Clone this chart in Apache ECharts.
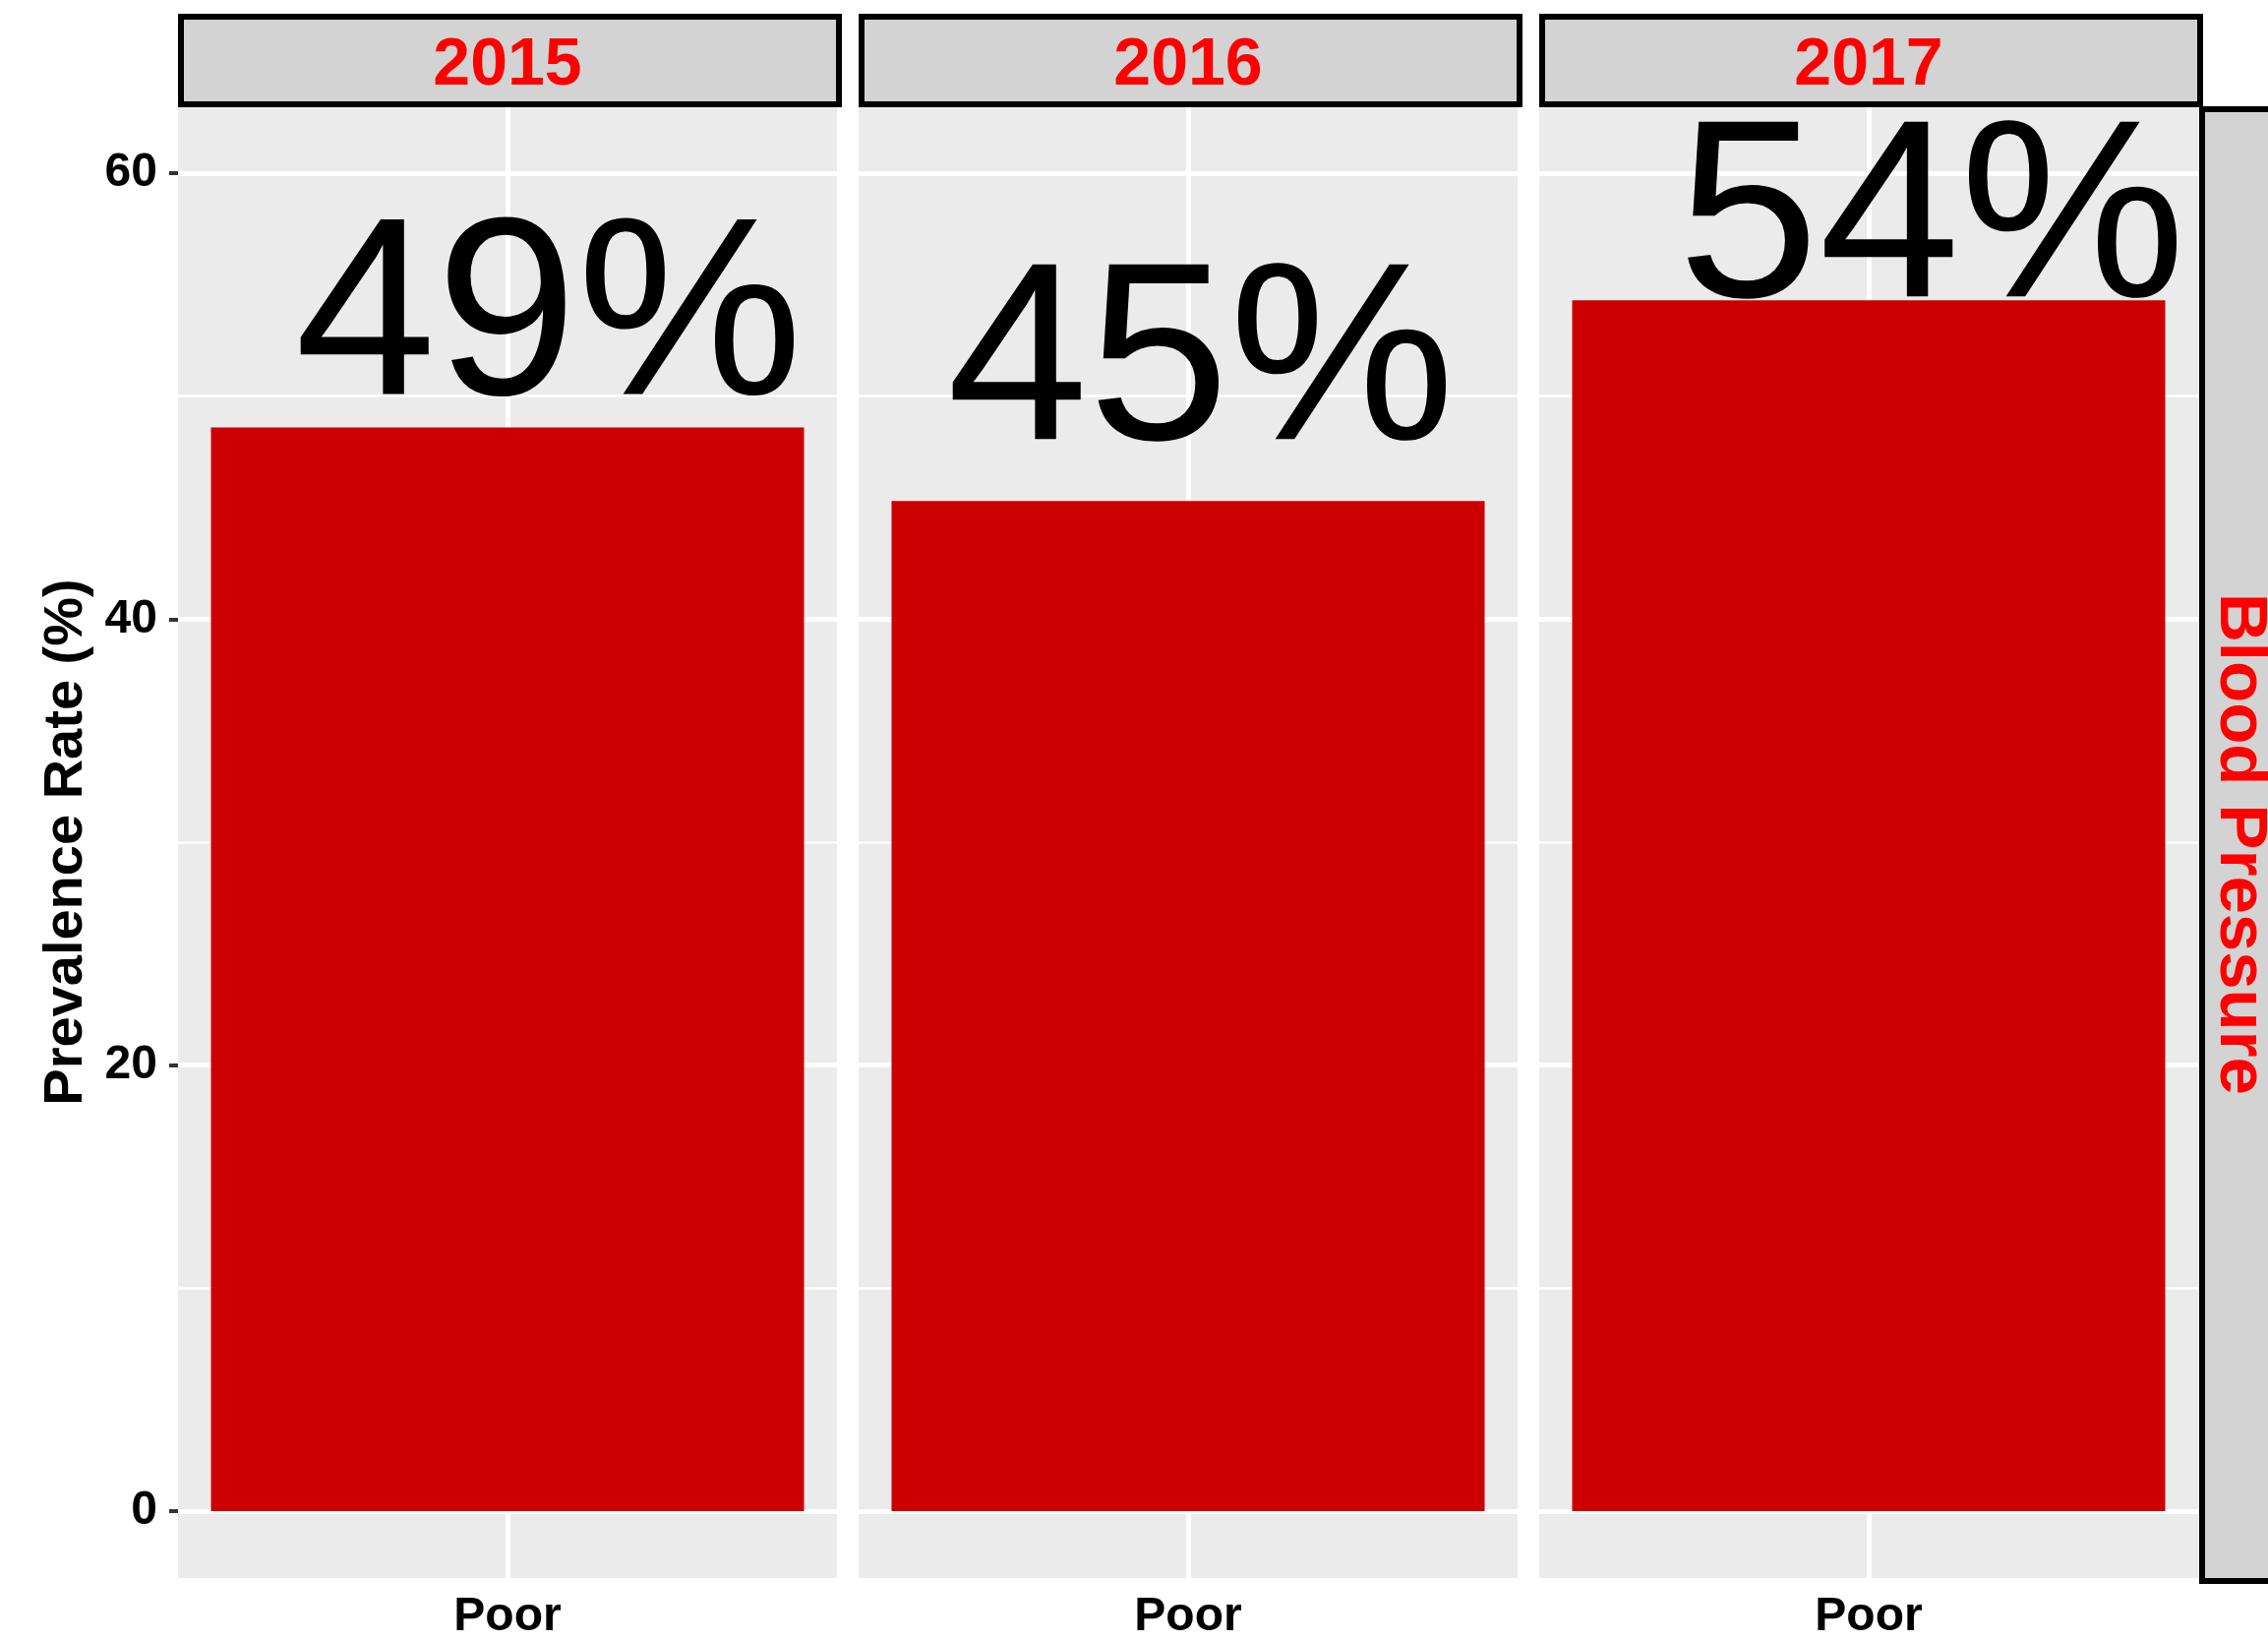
<!DOCTYPE html>
<html>
<head>
<meta charset="utf-8">
<title>Prevalence Rate – Blood Pressure</title>
<script src="https://cdn.jsdelivr.net/npm/echarts@6/dist/echarts.min.js"></script>
<style>
  html, body { margin: 0; padding: 0; background: #ffffff; }
  #chart { width: 2306px; height: 1668px; }
</style>
</head>
<body>
<div id="chart"></div>
<script>
// ---- data ----
const years = ['2015', '2016', '2017'];
const categories = ['Poor'];
const rates = [48.6, 45.3, 54.3];           // prevalence rate (%) per year
const yTicks = [0, 20, 40, 60];
const yMinorTicks = [10, 30, 50];
const rowStrip = 'Blood Pressure';
const yTitle = 'Prevalence Rate (%)';

// ---- layout & style ----
const FONT = '"Liberation Sans", Arial, Helvetica, sans-serif';
const panelLeft = 181, panelW = 670, panelGap = 22;
const panelTop = 108, panelBottom = 1608;
const panelBg = '#EBEBEB';
const barColor = '#CC0000';
const stripFill = '#D3D3D3';
const stripText = '#FF0000';
// shift of each big percentage label relative to its bar top, in px
const labelShift = [[42, -105], [13, -134], [64, -75]];

const grids = [], xAxes = [], yAxes = [], series = [], graphics = [];

years.forEach((yr, i) => {
  const left = panelLeft + i * (panelW + panelGap);
  grids.push({
    left: left, top: panelTop, width: panelW, height: panelBottom - panelTop,
    show: true, backgroundColor: panelBg, borderWidth: 0, containLabel: false
  });
  xAxes.push({
    type: 'category', gridIndex: i, data: categories,
    axisLine: { show: false },
    axisTick: { show: true, alignWithLabel: true, length: 11, lineStyle: { color: '#333', width: 4 } },
    axisLabel: { fontSize: 48, fontWeight: 'bold', color: '#000', fontFamily: FONT, margin: 16 },
    splitLine: { show: false }
  });
  yAxes.push({
    type: 'value', gridIndex: i, min: -3, max: 63,
    axisLine: { show: false },
    splitLine: { show: false },
    axisTick: { show: i === 0, customValues: yTicks, length: 9, lineStyle: { color: '#333', width: 4 } },
    axisLabel: { show: i === 0, customValues: yTicks, fontSize: 48, fontWeight: 'bold', color: '#000', fontFamily: FONT, margin: 21 },
    name: i === 0 ? yTitle : '',
    nameLocation: 'middle', nameGap: 85, nameRotate: 90,
    nameTextStyle: { fontSize: 56, fontWeight: 'bold', color: '#000', fontFamily: FONT }
  });

  // panel grid lines + big value label (drawn beneath the bar)
  const gridLines = []
    .concat(yTicks.map(v => ({ yAxis: v, lineStyle: { width: 5 } })))
    .concat(yMinorTicks.map(v => ({ yAxis: v, lineStyle: { width: 2.5 } })))
    .concat(categories.map(c => ({ xAxis: c, lineStyle: { width: 5 } })));

  series.push({
    type: 'scatter', xAxisIndex: i, yAxisIndex: i, z: 2,
    data: [[categories[0], rates[i]]],
    symbolSize: 0, silent: true, animation: false,
    itemStyle: { opacity: 1 },
    label: {
      show: true, position: 'inside', offset: labelShift[i],
      formatter: p => Math.round(p.value[1]) + '%',
      fontSize: 258, fontFamily: FONT, color: '#000000', opacity: 1
    },
    markLine: {
      z: 1, silent: true, symbol: ['none', 'none'], animation: false,
      label: { show: false },
      lineStyle: { color: '#ffffff', type: 'solid' },
      emphasis: { disabled: true },
      data: gridLines
    }
  });
  series.push({
    type: 'bar', xAxisIndex: i, yAxisIndex: i, z: 3,
    data: [rates[i]], barWidth: '90%', animation: false,
    itemStyle: { color: barColor }
  });

  // facet strip above the panel
  graphics.push({
    type: 'rect', z: 10, silent: true,
    shape: { x: left + 3, y: 17, width: panelW - 1, height: 89 },
    style: { fill: stripFill, stroke: '#000', lineWidth: 6 }
  });
  graphics.push({
    type: 'text', z: 11, silent: true,
    x: left + panelW / 2, y: 67,
    style: {
      text: yr, fill: stripText, font: 'bold 68px ' + FONT,
      align: 'center', verticalAlign: 'middle', textAlign: 'center', textVerticalAlign: 'middle'
    }
  });
});

// row strip on the right
graphics.push({
  type: 'rect', z: 10, silent: true,
  shape: { x: 2239, y: 111, width: 100, height: panelBottom - 111 - 1 },
  style: { fill: stripFill, stroke: '#000', lineWidth: 6 }
});
graphics.push({
  type: 'text', z: 11, silent: true,
  x: 2277, y: (panelTop + panelBottom) / 2, rotation: -Math.PI / 2,
  style: {
    text: rowStrip, fill: stripText, font: 'bold 69px ' + FONT,
    align: 'center', verticalAlign: 'middle', textAlign: 'center', textVerticalAlign: 'middle'
  }
});

const chart = echarts.init(document.getElementById('chart'), null, { renderer: 'canvas' });
chart.setOption({
  backgroundColor: '#ffffff',
  animation: false,
  grid: grids,
  xAxis: xAxes,
  yAxis: yAxes,
  series: series,
  graphic: { elements: graphics }
});
</script>
</body>
</html>
